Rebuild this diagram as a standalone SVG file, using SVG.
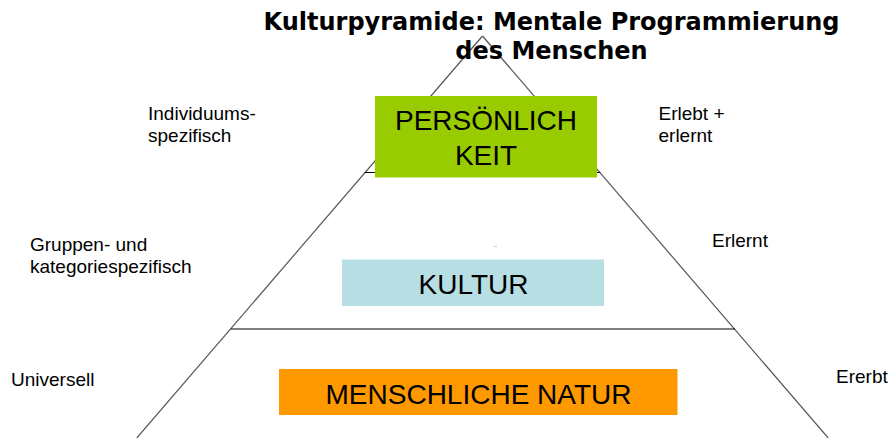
<svg xmlns="http://www.w3.org/2000/svg" width="890" height="438" viewBox="0 0 890 438">
<style>
.title{font-family:"DejaVu Sans",Verdana,sans-serif;font-weight:bold;font-size:24px;fill:#000;text-anchor:middle}
.side{font-family:"Liberation Sans",Arial,sans-serif;font-size:19px;fill:#000}
.box{font-family:"Liberation Sans",Arial,sans-serif;font-size:28px;fill:#000;text-anchor:middle}
.edge{stroke:#555;stroke-width:1.2;fill:none}
.level{stroke:#000;stroke-width:1.2;fill:none}
</style>
<rect width="890" height="438" fill="#fff"/>
<g id="connectors">
<line class="edge" x1="482.5" y1="36" x2="136.8" y2="438"/>
<line class="edge" x1="482.5" y1="36" x2="828.2" y2="438"/>
<line class="level" x1="364.7" y1="172.5" x2="600.3" y2="172.5"/>
<line class="level" x1="231" y1="329" x2="735" y2="329"/>
</g>
<g id="title">
<text class="title" x="551.5" y="30">Kulturpyramide: Mentale Programmierung</text>
<text class="title" x="551.5" y="59">des Menschen</text>
</g>
<g id="persoenlichkeit">
<rect x="375" y="96" width="222" height="81.5" fill="#99CC00"/>
<text class="box" x="486" y="130">PERSÖNLICH</text>
<text class="box" x="486" y="164.5">KEIT</text>
</g>
<g id="kultur">
<rect x="342" y="259.5" width="262" height="46.5" fill="#B7DFE3"/>
<text class="box" x="473.5" y="293.5">KULTUR</text>
</g>
<line x1="494" y1="246.5" x2="497" y2="246.5" stroke="#E8B080" stroke-width="0.8"/>
<g id="menschliche-natur">
<rect x="279" y="369" width="398.5" height="46" fill="#FF9900"/>
<text class="box" x="478.5" y="403.5">MENSCHLICHE NATUR</text>
</g>
<g id="label-individuums">
<text class="side" x="148" y="119.5">Individuums-</text>
<text class="side" x="148" y="141.5">spezifisch</text>
</g>
<g id="label-gruppen">
<text class="side" x="30" y="250.5">Gruppen- und</text>
<text class="side" x="30" y="273">kategoriespezifisch</text>
</g>
<g id="label-universell">
<text class="side" x="11" y="385.5">Universell</text>
</g>
<g id="label-erlebt">
<text class="side" x="658.5" y="120">Erlebt +</text>
<text class="side" x="658.5" y="141.5">erlernt</text>
</g>
<g id="label-erlernt">
<text class="side" x="712" y="247">Erlernt</text>
</g>
<g id="label-ererbt">
<text class="side" x="836" y="382.5">Ererbt</text>
</g>
</svg>
